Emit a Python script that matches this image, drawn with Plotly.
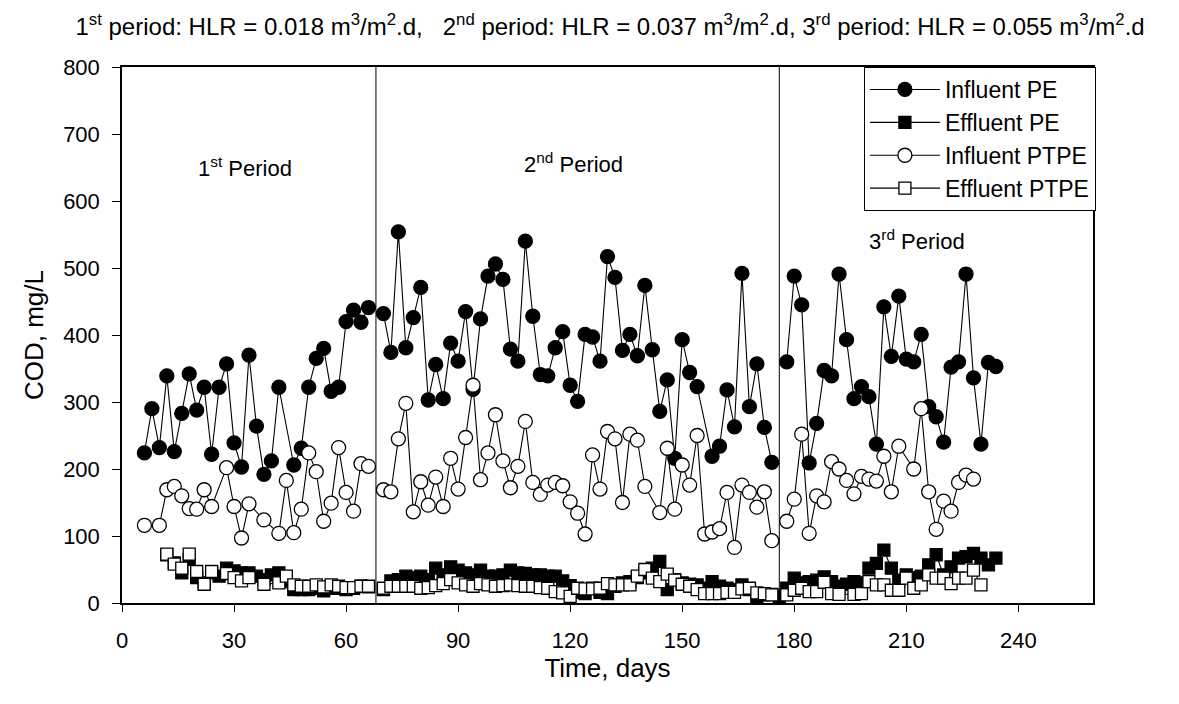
import plotly.graph_objects as go

# ---------------- data ----------------
period_bounds = [68, 176]

inf_pe_days = [6, 8, 10, 12, 14, 16, 18, 20, 22, 24, 26, 28, 30, 32, 34, 36, 38, 40, 42,
               46, 48, 50, 52, 54, 56, 58, 60, 62, 64, 66,
               70, 72, 74, 76, 78, 80, 82, 84, 86, 88, 90, 92, 94, 96, 98, 100, 102, 104, 106, 108,
               110, 112, 114, 116, 118, 120, 122, 124, 126, 128, 130, 132, 134, 136, 138, 140, 142,
               144, 146, 148, 150, 152, 154, 158, 160, 162, 164, 166, 168, 170, 172, 174,
               178, 180, 182, 184, 186, 188, 190, 192, 194, 196, 198, 200, 202, 204, 206, 208, 210,
               212, 214, 216, 218, 220, 222, 224, 226, 228, 230, 232, 234]
inf_pe = [224, 290, 232, 339, 226, 283, 342, 288, 322, 222, 322, 357, 239, 203, 370, 264, 192, 212, 322,
          206, 231, 322, 365, 380, 316, 322, 420, 437, 419, 441,
          432, 374, 554, 381, 426, 471, 303, 356, 305, 388, 361, 435, 319, 424, 488, 506, 483, 379, 361, 540,
          428, 341, 339, 381, 405, 325, 301, 401, 397, 361, 517, 486, 377, 401, 369, 474, 378,
          286, 333, 216, 393, 344, 323, 219, 234, 318, 263, 492, 293, 357, 262, 210,
          360, 488, 445, 209, 268, 347, 339, 491, 393, 305, 323, 308, 237, 442, 368, 458, 364,
          360, 401, 293, 278, 240, 352, 360, 491, 336, 237, 359, 353]

eff_pe_days = [12, 14, 16, 18, 20, 22, 24, 26, 28, 30, 32, 34, 36, 38, 40, 42, 44, 46, 48, 50,
               52, 54, 56, 58, 60, 62, 64, 66,
               70, 72, 74, 76, 78, 80, 82, 84, 86, 88, 90, 92, 94, 96, 98, 100, 102, 104, 106, 108,
               110, 112, 114, 116, 118, 120, 122, 124, 126, 128, 130, 132, 134, 136, 138, 140, 142,
               144, 146, 148, 150, 152, 154, 156, 158, 160, 162, 164, 166, 168, 170, 172, 174, 176,
               178, 180, 182, 184, 186, 188, 190, 192, 194, 196, 198, 200, 202, 204, 206, 208, 210,
               212, 214, 216, 218, 220, 222, 224, 226, 228, 230, 232, 234]
eff_pe = [72, 60, 45, 65, 38, 30, 45, 40, 52, 48, 45, 45, 40, 35, 42, 45, 32, 20, 20, 20,
          22, 18, 22, 22, 20, 22, 25, 24,
          20, 33, 35, 40, 38, 40, 35, 52, 42, 54, 49, 45, 42, 49, 40, 40, 42, 49, 45, 44,
          42, 42, 40, 40, 33, 26, 16, 14, 22, 16, 14, 25, 30, 32, 38, 45, 52,
          62, 20, 35, 30, 28, 27, 22, 32, 25, 22, 20, 27, 20, 10, 12, 13, 10,
          22, 37, 30, 32, 34, 39, 32, 25, 28, 32, 30, 52, 59, 79, 52, 34, 42,
          38, 40, 57, 72, 42, 54, 67, 69, 74, 67, 57, 67]

inf_ptpe_days = [6, 10, 12, 14, 16, 18, 20, 22, 24, 28, 30, 32, 34, 38, 42, 44, 46, 48,
                 50, 52, 54, 56, 58, 60, 62, 64, 66,
                 70, 72, 74, 76, 78, 80, 82, 84, 86, 88, 90, 92, 94, 96, 98, 100, 102, 104, 106, 108,
                 110, 112, 114, 116, 118, 120, 122, 124, 126, 128, 130, 132, 134, 136, 138, 140,
                 144, 146, 148, 150, 152, 154, 156, 158, 160, 162, 164, 166, 168, 170, 172, 174,
                 178, 180, 182, 184, 186, 188, 190, 192, 194, 196, 198, 200, 202, 204, 206, 208,
                 212, 214, 216, 218, 220, 222, 224, 226, 228]
inf_ptpe = [116, 116, 169, 174, 160, 141, 140, 169, 144, 202, 144, 97, 148, 124, 104, 183, 105, 140,
            224, 196, 122, 149, 232, 165, 137, 208, 204,
            169, 166, 245, 298, 136, 181, 146, 188, 144, 216, 170, 247, 325, 184, 224, 281, 212, 172, 204, 271,
            180, 162, 176, 180, 175, 151, 134, 103, 221, 170, 256, 245, 150, 252, 243, 174,
            135, 231, 140, 206, 176, 250, 103, 106, 111, 165, 83, 176, 165, 143, 166, 93,
            122, 155, 252, 104, 160, 151, 211, 200, 183, 163, 189, 185, 182, 219, 166, 234,
            200, 290, 166, 110, 152, 137, 180, 191, 185]

eff_ptpe_days = [12, 14, 16, 18, 20, 22, 24, 28, 30, 32, 34, 38, 42, 44, 46, 48, 50, 52, 54, 56,
                 58, 60, 62, 64, 66,
                 70, 72, 74, 76, 78, 80, 82, 84, 86, 88, 90, 92, 94, 96, 98, 100, 102, 104, 106, 108,
                 110, 112, 114, 116, 118, 120, 122, 124, 126, 128, 130, 132, 134, 136, 138, 140, 142,
                 144, 146, 148, 150, 152, 154, 156, 158, 160, 162, 164, 166, 168, 170, 172, 174,
                 178, 180, 182, 184, 186, 188, 190, 192, 196, 198, 200, 202, 204, 206, 208, 210,
                 212, 214, 216, 218, 220, 222, 224, 226, 228, 230]
eff_ptpe = [73, 58, 52, 73, 47, 28, 47, 44, 38, 33, 38, 28, 30, 40, 27, 25, 25, 27, 24, 27,
            25, 23, 23, 25, 25,
            22, 25, 25, 25, 25, 22, 23, 26, 29, 35, 30, 27, 25, 29, 27, 25, 26, 27, 26, 25,
            25, 23, 22, 17, 15, 10, 22, 21, 21, 22, 29, 27, 27, 27, 40, 50, 37,
            32, 43, 34, 28, 25, 20, 14, 14, 14, 16, 16, 21, 22, 15, 14, 12,
            12, 19, 22, 17, 17, 31, 14, 13, 13, 14, 32, 27, 27, 19, 19, 37,
            22, 27, 42, 37, 37, 29, 37, 37, 49, 27]

x_ticks = [0, 30, 60, 90, 120, 150, 180, 210, 240]
y_ticks = [0, 100, 200, 300, 400, 500, 600, 700, 800]


def split_periods(days, vals):
    xs, ys = [], []
    prev = None
    for d, v in zip(days, vals):
        if prev is not None and any(prev < b < d for b in period_bounds):
            xs.append(None)
            ys.append(None)
        xs.append(d)
        ys.append(v)
        prev = d
    return xs, ys


FONT = "Liberation Sans, Arial, sans-serif"
fig = go.Figure()

series = [
    ("Influent PE", inf_pe_days, inf_pe, "circle", "black", 14),
    ("Effluent PE", eff_pe_days, eff_pe, "square", "black", 12),
    ("Influent PTPE", inf_ptpe_days, inf_ptpe, "circle", "white", 14),
    ("Effluent PTPE", eff_ptpe_days, eff_ptpe, "square", "white", 12),
]
for name, d, v, sym, fill, size in series:
    xs, ys = split_periods(d, v)
    fig.add_trace(go.Scatter(
        x=xs, y=ys, name=name, mode="lines+markers",
        line=dict(color="black", width=1.1),
        marker=dict(symbol=sym, size=size, color=fill,
                    line=dict(color="black", width=1.3)),
        connectgaps=False,
    ))

for b in period_bounds:
    fig.add_shape(type="line", xref="x", yref="paper", x0=b, x1=b, y0=0, y1=1,
                  line=dict(color="black", width=1), layer="below")

ann = [
    (33, 651, "1<sup>st</sup> Period"),
    (121, 657, "2<sup>nd</sup> Period"),
    (213, 542, "3<sup>rd</sup> Period"),
]
for x, y, t in ann:
    fig.add_annotation(x=x, y=y, xref="x", yref="y", text=t, showarrow=False,
                       font=dict(family=FONT, size=22, color="black"))

# page body has an 8px margin: figure is sized/offset so the plot lands where the reference has it
fig.update_layout(
    width=1163, height=688,
    paper_bgcolor="white", plot_bgcolor="white",
    margin=dict(l=114, r=78, t=59, b=93),
    font=dict(family=FONT, size=22, color="black"),
    title=dict(
        text=("1<sup>st</sup> period: HLR = 0.018 m<sup>3</sup>/m<sup>2</sup>.d,   "
              "2<sup>nd</sup> period: HLR = 0.037 m<sup>3</sup>/m<sup>2</sup>.d, "
              "3<sup>rd</sup> period: HLR = 0.055 m<sup>3</sup>/m<sup>2</sup>.d"),
        x=0.5177, xanchor="center", y=0.973, yanchor="middle",
        font=dict(family=FONT, size=24, color="black"),
    ),
    showlegend=True,
    legend=dict(
        x=1.003, xanchor="right", y=1.0, yanchor="top",
        bordercolor="black", borderwidth=1, bgcolor="white",
        font=dict(family=FONT, size=23, color="black"),
        itemwidth=70, tracegroupgap=0,
    ),
    xaxis=dict(
        range=[0, 260], tickvals=x_ticks, ticktext=[str(t) for t in x_ticks],
        ticks="outside", ticklen=7, tickwidth=1, tickcolor="black",
        ticklabelstandoff=10,
        showline=True, linecolor="black", linewidth=1.5, mirror=True,
        showgrid=False, zeroline=False,
        title=dict(text="Time, days", font=dict(family=FONT, size=26), standoff=2),
        tickfont=dict(family=FONT, size=22),
    ),
    yaxis=dict(
        range=[0, 800], tickvals=y_ticks, ticktext=[str(t) for t in y_ticks],
        ticks="outside", ticklen=8, tickwidth=1, tickcolor="black",
        ticklabelstandoff=8,
        showline=True, linecolor="black", linewidth=1.5, mirror=True,
        showgrid=False, zeroline=False,
        title=dict(text="COD, mg/L", font=dict(family=FONT, size=26), standoff=12),
        tickfont=dict(family=FONT, size=22),
    ),
)

fig.write_html("out.html")
